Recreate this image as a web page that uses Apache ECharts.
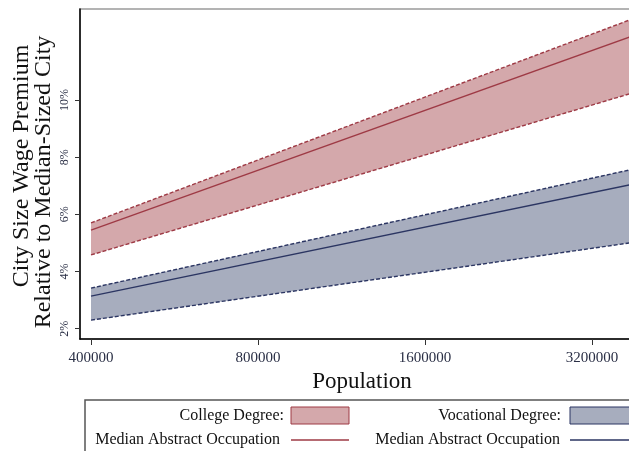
<!DOCTYPE html>
<html>
<head>
<meta charset="utf-8">
<script src="https://cdn.jsdelivr.net/npm/echarts@6/dist/echarts.min.js"></script>
<style>html,body{margin:0;padding:0;background:#fff}#c{width:629px;height:451px}</style>
</head>
<body>
<div id="c"></div>
<script>
// ---- data ----
const population = [400000, 3900000];
const collegeUpper = [5.70, 12.93];
const collegeMedian = [5.45, 12.33];
const collegeLower = [4.58, 10.32];
const vocUpper = [3.42, 7.63];
const vocMedian = [3.14, 7.10];
const vocLower = [2.30, 5.05];
const xTicks = [400000, 800000, 1600000, 3200000];
const yTicks = [2, 4, 6, 8, 10];
const legendLabels = ['College Degree:', 'Vocational Degree:', 'Median Abstract Occupation', 'Median Abstract Occupation'];
const yTitle = ['City Size Wage Premium', 'Relative to Median-Sized City'];
const xMinPop = 382140, xMaxPop = 3970000;

const FONT = '"Liberation Serif", serif';
const RED_FILL = '#d4a8ab', RED_LINE = '#9e3a45';
const BLUE_FILL = '#a7adbe', BLUE_LINE = '#2b3562';

// x axis is a base-2 logarithmic scale: values are passed as log2(population)
const lx = p => Math.log2(p);
const pair = (ys) => population.map((p, i) => [lx(p), ys[i]]);

function band(up, lo, fill) {
  return {
    type: 'custom', silent: true, z: 1, clip: true,
    data: population.map((p, i) => [lx(p), lo[i], up[i]]),
    encode: { x: 0, y: [1, 2] },
    renderItem: function (params, api) {
      if (params.dataIndex !== 0) return null;
      const pts = [];
      population.forEach((p, i) => pts.push(api.coord([lx(p), up[i]])));
      for (let i = population.length - 1; i >= 0; i--) pts.push(api.coord([lx(population[i]), lo[i]]));
      return { type: 'polygon', shape: { points: pts }, style: { fill } };
    }
  };
}
function line(ys, color, dashed) {
  return { type: 'line', data: pair(ys), symbol: 'none', silent: true, z: 3,
    lineStyle: { color, width: 1.4, type: dashed ? [4, 2] : 'solid' } };
}

const chart = echarts.init(document.getElementById('c'), null, { renderer: 'canvas' });
chart.setOption({
  animation: false,
  grid: { left: 80, top: 9, width: 564, height: 330, outerBoundsMode: 'none', containLabel: false,
    show: true, borderColor: '#9a9a9a', borderWidth: 1.5, backgroundColor: '#fff' },
  xAxis: {
    type: 'value', min: lx(xMinPop), max: lx(xMaxPop),
    name: 'Population', nameLocation: 'middle', nameGap: 26,
    nameTextStyle: { fontFamily: FONT, fontSize: 23, color: '#111' },
    axisLine: { show: true, lineStyle: { color: '#000', width: 1.5 } },
    axisTick: { show: true, length: 6, lineStyle: { color: '#333' }, customValues: xTicks.map(lx) },
    axisLabel: { customValues: xTicks.map(lx), fontFamily: FONT, fontSize: 15, color: '#2a2f45', margin: 12,
      formatter: v => String(Math.round(Math.pow(2, v))) },
    splitLine: { show: false }
  },
  yAxis: {
    type: 'value', min: 1.64, max: 13.18,
    axisLine: { show: true, lineStyle: { color: '#000', width: 1.5 } },
    axisTick: { show: true, length: 5, lineStyle: { color: '#333' }, customValues: yTicks },
    axisLabel: { customValues: yTicks, rotate: 90, fontFamily: FONT, fontSize: 12, color: '#2a2f45', margin: 9,
      formatter: v => Math.round(v) + '%' },
    splitLine: { show: false }
  },
  series: [
    band(collegeUpper, collegeLower, RED_FILL),
    band(vocUpper, vocLower, BLUE_FILL),
    line(collegeUpper, RED_LINE, true), line(collegeLower, RED_LINE, true), line(collegeMedian, RED_LINE, false),
    line(vocUpper, BLUE_LINE, true), line(vocLower, BLUE_LINE, true), line(vocMedian, BLUE_LINE, false)
  ],
  graphic: [
    { type: 'text', x: 22, y: 166, rotation: Math.PI / 2,
      style: { text: yTitle[0], font: '24px ' + FONT, fill: '#111', align: 'center', verticalAlign: 'middle' } },
    { type: 'text', x: 44, y: 182, rotation: Math.PI / 2,
      style: { text: yTitle[1], font: '24px ' + FONT, fill: '#111', align: 'center', verticalAlign: 'middle' } },
    { type: 'rect', shape: { x: 85, y: 400, width: 600, height: 80 }, style: { fill: '#fff', stroke: '#555', lineWidth: 1.5 } },
    { type: 'text', x: 284, y: 416, style: { text: legendLabels[0], font: '16px ' + FONT, fill: '#111', align: 'right', verticalAlign: 'middle' } },
    { type: 'rect', shape: { x: 291, y: 407, width: 58, height: 17 }, style: { fill: RED_FILL, stroke: RED_LINE, lineWidth: 1 } },
    { type: 'text', x: 561, y: 416, style: { text: legendLabels[1], font: '16px ' + FONT, fill: '#111', align: 'right', verticalAlign: 'middle' } },
    { type: 'rect', shape: { x: 570, y: 407, width: 70, height: 17 }, style: { fill: BLUE_FILL, stroke: BLUE_LINE, lineWidth: 1 } },
    { type: 'text', x: 280, y: 440, style: { text: legendLabels[2], font: '16px ' + FONT, fill: '#111', align: 'right', verticalAlign: 'middle' } },
    { type: 'line', shape: { x1: 291, y1: 440, x2: 349, y2: 440 }, style: { stroke: RED_LINE, lineWidth: 1.4 } },
    { type: 'text', x: 560, y: 440, style: { text: legendLabels[3], font: '16px ' + FONT, fill: '#111', align: 'right', verticalAlign: 'middle' } },
    { type: 'line', shape: { x1: 570, y1: 440, x2: 640, y2: 440 }, style: { stroke: BLUE_LINE, lineWidth: 1.4 } }
  ]
});
</script>
</body>
</html>
